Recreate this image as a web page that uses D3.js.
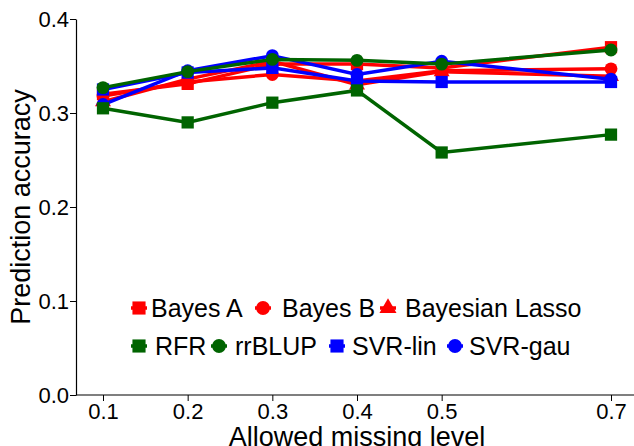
<!DOCTYPE html>
<html>
<head>
<meta charset="utf-8">
<script src="https://cdn.jsdelivr.net/npm/d3@7"></script>
<style>
  body { margin: 0; background: #fff; }
  svg { display: block; font-family: "Liberation Sans", Arial, sans-serif; }
</style>
</head>
<body>
<div id="chart"></div>
<script>
const width = 634;
const height = 446;

// data
const levels = [0.1, 0.2, 0.3, 0.4, 0.5, 0.7];
const yTicks = [0.0, 0.1, 0.2, 0.3, 0.4];
const bayesA = [0.320, 0.331, 0.352, 0.352, 0.348, 0.370];
const bayesB = [0.318, 0.333, 0.341, 0.334, 0.345, 0.347];
const bayesLasso = [0.312, 0.336, 0.355, 0.330, 0.344, 0.339];
const rfr = [0.305, 0.290, 0.311, 0.324, 0.258, 0.277];
const rrblup = [0.327, 0.344, 0.357, 0.356, 0.352, 0.367];
const svrLin = [0.325, 0.343, 0.348, 0.334, 0.333, 0.333];
const svrGau = [0.309, 0.345, 0.361, 0.341, 0.355, 0.336];

const series = [
  {name: "Bayes A", values: bayesA, color: "#ff0000", shape: "square", draw: 0},
  {name: "Bayes B", values: bayesB, color: "#ff0000", shape: "circle", draw: 1},
  {name: "Bayesian Lasso", values: bayesLasso, color: "#ff0000", shape: "triangle", draw: 2},
  {name: "RFR", values: rfr, color: "#006400", shape: "square", draw: 5},
  {name: "rrBLUP", values: rrblup, color: "#006400", shape: "circle", draw: 6},
  {name: "SVR-lin", values: svrLin, color: "#0000ff", shape: "square", draw: 3},
  {name: "SVR-gau", values: svrGau, color: "#0000ff", shape: "circle", draw: 4}
];

const svg = d3.select("#chart").append("svg")
  .attr("width", width)
  .attr("height", height);

const x = d3.scaleLinear().domain([0.1, 0.7]).range([103, 611]);
const y = d3.scaleLinear().domain([0, 0.4]).range([395, 19]);

/* ---------------- axes ---------------- */
const yAxis = svg.append("g")
  .attr("transform", "translate(76,0)")
  .call(d3.axisLeft(y).tickValues(yTicks).tickFormat(d3.format(".1f")).tickSize(6).tickSizeOuter(0));
yAxis.select(".domain").attr("stroke", "#000").attr("stroke-width", 1.2);
yAxis.selectAll("text").attr("font-size", 22).attr("fill", "#000").attr("x", -7).attr("dy", "0.36em");

const xAxis = svg.append("g")
  .attr("transform", "translate(0,395)")
  .call(d3.axisBottom(x).tickValues(levels).tickFormat(d3.format(".1f")).tickSize(6).tickSizeOuter(0));
xAxis.select(".domain").attr("d", "M76,0H640").attr("stroke", "#000").attr("stroke-width", 1.2);
xAxis.selectAll("text").attr("font-size", 22).attr("fill", "#000").attr("y", 8);

svg.append("text")
  .attr("transform", "translate(30,207) rotate(-90)")
  .attr("text-anchor", "middle")
  .attr("font-size", 27)
  .text("Prediction accuracy");

// axis title sits partly below the bottom edge, as in the original
svg.append("text")
  .attr("x", 357)
  .attr("y", 446)
  .attr("text-anchor", "middle")
  .attr("font-size", 27)
  .text("Allowed missing level");

/* ---------------- marks ---------------- */
const symbolFor = {square: d3.symbolSquare, circle: d3.symbolCircle, triangle: d3.symbolTriangle};
const sizeFor = {square: 150, circle: 130, triangle: 110};

const line = d3.line()
  .x((d, i) => x(levels[i]))
  .y(d => y(d));

const ordered = series.slice().sort((a, b) => a.draw - b.draw);

ordered.forEach(function(s) {
  const g = svg.append("g");
  g.append("path")
    .attr("d", line(s.values))
    .attr("fill", "none")
    .attr("stroke", s.color)
    .attr("stroke-width", 3.5);
  g.selectAll("path.pt")
    .data(s.values)
    .join("path")
      .attr("class", "pt")
      .attr("transform", (d, i) => `translate(${x(levels[i])},${y(d)})`)
      .attr("d", d3.symbol().type(symbolFor[s.shape]).size(sizeFor[s.shape]))
      .attr("fill", s.color);
});

/* ---------------- legend ---------------- */
const legendRows = [
  {y: 308, items: [[0, 139, 151], [1, 263, 282], [2, 388, 405]]},
  {y: 346, items: [[3, 139, 155], [4, 219, 235], [5, 337, 352], [6, 455, 469]]}
];

legendRows.forEach(function(row) {
  row.items.forEach(function(it) {
    const s = series[it[0]];
    const lg = svg.append("g").attr("transform", `translate(${it[1]},${row.y})`);
    lg.append("line")
      .attr("x1", -8).attr("x2", 8)
      .attr("stroke", s.color).attr("stroke-width", 3.5);
    lg.append("path")
      .attr("d", d3.symbol().type(symbolFor[s.shape]).size(sizeFor[s.shape] * 1.15))
      .attr("fill", s.color);
    svg.append("text")
      .attr("x", it[2])
      .attr("y", row.y)
      .attr("dy", "0.36em")
      .attr("font-size", 25)
      .text(s.name);
  });
});
</script>
</body>
</html>
